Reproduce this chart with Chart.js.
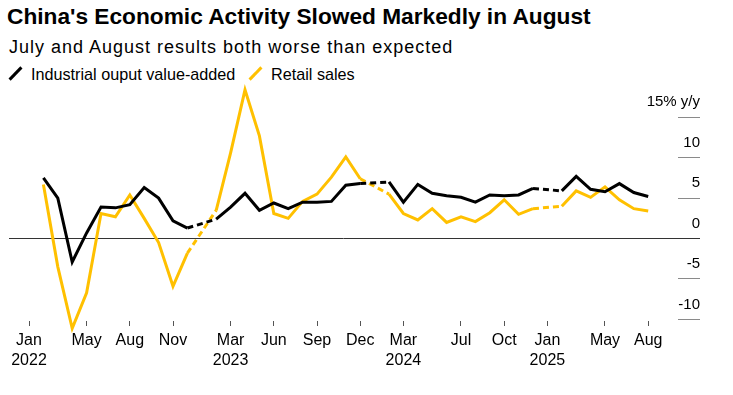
<!DOCTYPE html>
<html>
<head>
<meta charset="utf-8">
<script src="https://cdn.jsdelivr.net/npm/chart.js@4"></script>
<style>
  body { margin: 0; background: #fff; font-family: "Liberation Sans", Arial, sans-serif; color: #000; }
  #wrap { position: relative; width: 733px; height: 395px; overflow: hidden; }
  #title { position: absolute; left: 7px; top: 5px; font-size: 22.7px; line-height: 22px; font-weight: bold; white-space: nowrap; }
  #subtitle { position: absolute; left: 9px; top: 38px; font-size: 18px; line-height: 18px; letter-spacing: 1px; white-space: nowrap; }
  #legend { position: absolute; left: 0; top: 66px; font-size: 16.2px; line-height: 17px; white-space: nowrap; }
  .item { position: absolute; top: 0; }
  .slash { position: absolute; top: -1px; width: 3px; height: 17px; transform: rotate(44deg); }
  canvas { position: absolute; left: 0; top: 0; }
</style>
</head>
<body>
<div id="wrap">
  <div id="title">China's Economic Activity Slowed Markedly in August</div>
  <div id="subtitle">July and August results both worse than expected</div>
  <div id="legend">
    <span class="slash" style="left:14px;background:#000"></span>
    <span class="item" style="left:31px">Industrial ouput value-added</span>
    <span class="slash" style="left:254px;background:#ffc000"></span>
    <span class="item" style="left:271px">Retail sales</span>
  </div>
  <canvas id="chart" width="733" height="395"></canvas>
</div>
<script>
// Months from Jan 2022 to Aug 2025 (Jan is reported together with Feb, so it stays empty)
const months = [
  "Jan 2022", "Feb 2022", "Mar 2022", "Apr 2022", "May 2022", "Jun 2022", "Jul 2022", "Aug 2022", "Sep 2022", "Oct 2022", "Nov 2022", "Dec 2022",
  "Jan 2023", "Feb 2023", "Mar 2023", "Apr 2023", "May 2023", "Jun 2023", "Jul 2023", "Aug 2023", "Sep 2023", "Oct 2023", "Nov 2023", "Dec 2023",
  "Jan 2024", "Feb 2024", "Mar 2024", "Apr 2024", "May 2024", "Jun 2024", "Jul 2024", "Aug 2024", "Sep 2024", "Oct 2024", "Nov 2024", "Dec 2024",
  "Jan 2025", "Feb 2025", "Mar 2025", "Apr 2025", "May 2025", "Jun 2025", "Jul 2025", "Aug 2025",
]

const industrial = [
  null, 7.5, 5.0, -2.9, 0.7, 3.9, 3.8, 4.2, 6.3, 5.0, 2.2, 1.3,
  null, 2.4, 3.9, 5.6, 3.5, 4.4, 3.7, 4.5, 4.5, 4.6, 6.6, 6.8,
  null, 7.0, 4.5, 6.7, 5.6, 5.3, 5.1, 4.5, 5.4, 5.3, 5.4, 6.2,
  null, 5.9, 7.7, 6.1, 5.8, 6.8, 5.7, 5.2,
]

const retail = [
  null, 6.7, -3.5, -11.1, -6.7, 3.1, 2.7, 5.4, 2.5, -0.5, -5.9, -1.8,
  null, 3.5, 10.6, 18.4, 12.7, 3.1, 2.5, 4.6, 5.5, 7.6, 10.1, 7.4,
  null, 5.5, 3.1, 2.3, 3.7, 2.0, 2.7, 2.1, 3.2, 4.8, 3.0, 3.7,
  null, 4.0, 5.9, 5.1, 6.4, 4.8, 3.7, 3.4,
]

// Month indexes that get an x-axis label
const xTickMonths = [0, 4, 7, 10, 14, 17, 20, 23, 26, 30, 33, 36, 40, 43]
const yTicks = [-10, -5, 0, 5, 10, 15]

const toPoints = (values) => values.map((v, i) => ({ x: i, y: v }))

// Dashed where the line jumps over the missing January
const gapDash = (ctx) => (ctx.p0.skip || ctx.p1.skip ? [6, 4] : undefined)

const font = { family: "'Liberation Sans', Arial, sans-serif" }

new Chart(document.getElementById("chart"), {
  type: "line",
  data: {
    datasets: [
      {
        label: "Industrial ouput value-added",
        data: toPoints(industrial),
        borderColor: "#000",
        borderWidth: 3,
        clip: false,
        segment: { borderDash: gapDash },
      },
      {
        label: "Retail sales",
        data: toPoints(retail),
        borderColor: "#ffc000",
        borderWidth: 3,
        clip: false,
        segment: { borderDash: gapDash },
      },
    ],
  },
  options: {
    responsive: false,
    animation: false,
    spanGaps: true,
    elements: { point: { radius: 0 }, line: { tension: 0 } },
    layout: { padding: { left: 9, right: 33, top: 85, bottom: 0 } },
    plugins: { legend: { display: false }, tooltip: { enabled: false } },
    scales: {
      x: {
        type: "linear",
        min: -1.39,
        max: 45.07,
        border: { display: false },
        grid: { drawOnChartArea: false, tickLength: 5, tickColor: "#555" },
        afterBuildTicks: (scale) => {
          scale.ticks = xTickMonths.map((v) => ({ value: v }))
        },
        afterFit: (scale) => {
          scale.height = 74
        },
        ticks: {
          autoSkip: false,
          maxRotation: 0,
          padding: 5,
          color: "#000",
          font: { ...font, size: 16, lineHeight: 1.25 },
          callback: (value) => {
            const [m, y] = months[value].split(" ")
            return m === "Jan" || value === 14 || value === 26 ? [m, y] : m
          },
        },
      },
      y: {
        position: "right",
        min: -10.2,
        max: 19,
        border: { display: false },
        grid: {
          tickLength: 22,
          color: (ctx) => (ctx.tick && ctx.tick.value === 0 ? "#333" : "rgba(0,0,0,0)"),
          tickColor: (ctx) => (ctx.tick && ctx.tick.value === 0 ? "#333" : "#8a8a8a"),
        },
        afterBuildTicks: (scale) => {
          scale.ticks = yTicks.map((v) => ({ value: v }))
        },
        afterFit: (scale) => {
          scale.width = 22
        },
        ticks: {
          mirror: true,
          padding: 22,
          labelOffset: -15,
          color: "#000",
          font: { ...font, size: 15 },
          callback: (value) => (value === 15 ? "15% y/y" : value),
        },
      },
    },
  },
})
</script>
</body>
</html>
